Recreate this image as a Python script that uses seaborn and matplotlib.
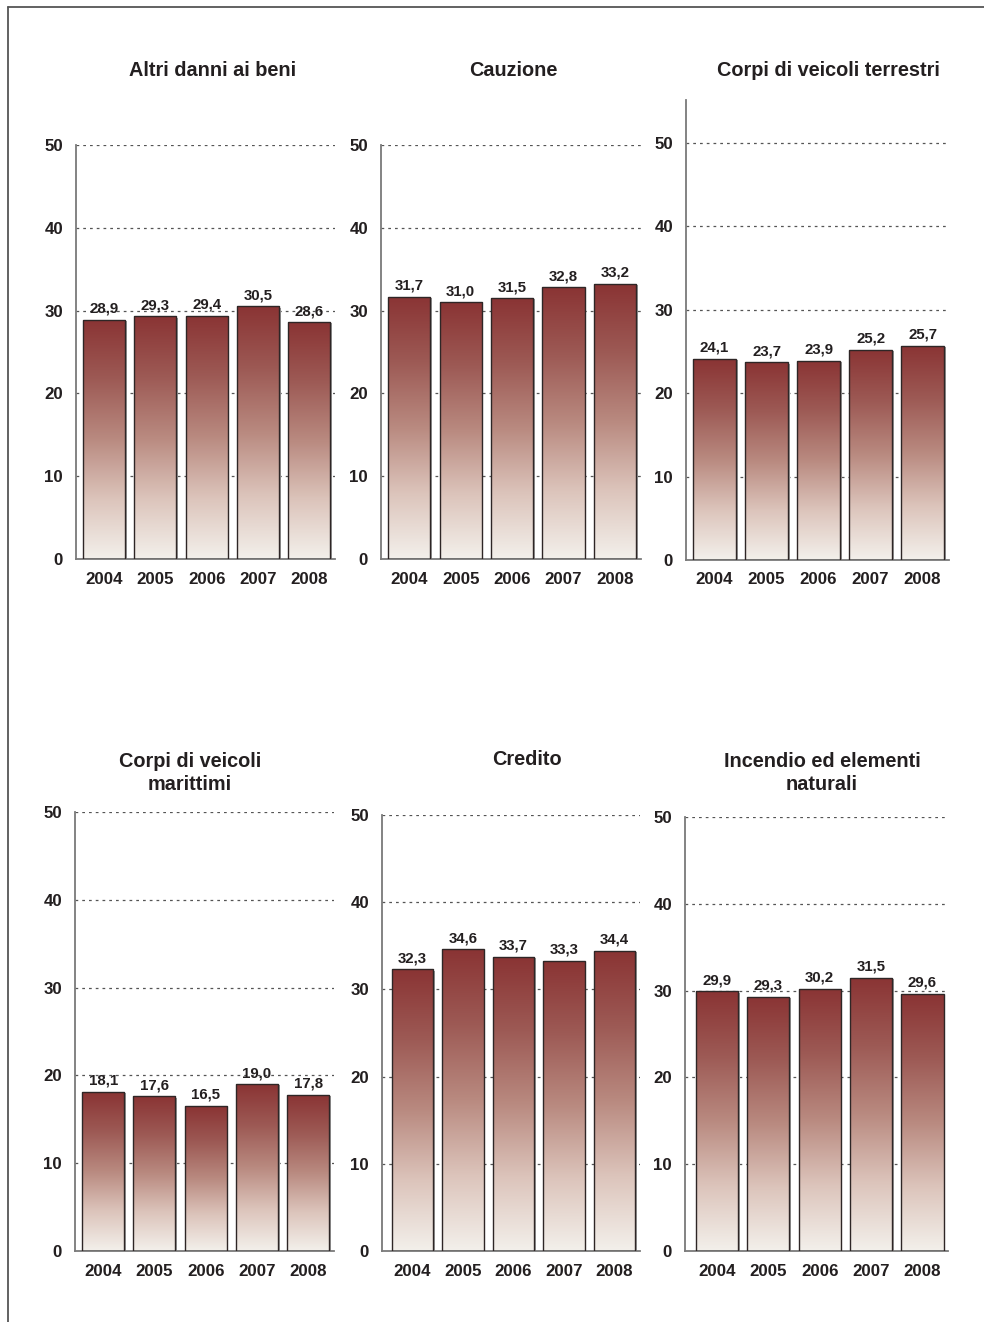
import numpy as np
import matplotlib
matplotlib.use("Agg")
import matplotlib.pyplot as plt
import matplotlib.transforms as mtransforms
from matplotlib.colors import LinearSegmentedColormap
from matplotlib.patches import Rectangle
from matplotlib.lines import Line2D
import seaborn as sns

sns.set_style("white")
plt.rcParams['font.family'] = ['Liberation Sans', 'DejaVu Sans']
plt.rcParams['font.weight'] = 'bold'

years = ["2004", "2005", "2006", "2007", "2008"]

titles = ["Altri danni ai beni", "Cauzione", "Corpi di veicoli terrestri",
          "Corpi di veicoli\nmarittimi", "Credito", "Incendio ed elementi\nnaturali"]

altri_danni = [28.9, 29.3, 29.4, 30.5, 28.6]
cauzione = [31.7, 31.0, 31.5, 32.8, 33.2]
veicoli_terrestri = [24.1, 23.7, 23.9, 25.2, 25.7]
veicoli_marittimi = [18.1, 17.6, 16.5, 19.0, 17.8]
credito = [32.3, 34.6, 33.7, 33.3, 34.4]
incendio = [29.9, 29.3, 30.2, 31.5, 29.6]

series = [altri_danni, cauzione, veicoli_terrestri, veicoli_marittimi, credito, incendio]

W, H = 984, 1322
txt = '#231f20'

# layout in pixels: spine x, bar spacing, y of 0, y of 50, top of axis, xlim left
layout = [
    (76, 51.25, 559, 145, 145, -0.55),
    (381, 51.4, 559, 145, 145, -0.55),
    (686, 52.0, 560, 143, 100, -0.55),
    (75, 51.25, 1251, 812, 812, -0.55),
    (382, 50.5, 1251, 815, 815, -0.6),
    (685, 51.4, 1251, 817, 817, -0.62),
]
# title centres (x px, y px)
title_pos = [(213, 70), (513, 71), (828, 70), (190, 773), (527, 760), (822, 773)]

cmap = LinearSegmentedColormap.from_list(
    "bar", ["#f3f0eb", "#dcc4bb", "#b98a80", "#9d5a55", "#8a3434"])
grad = np.linspace(0, 1, 256).reshape(-1, 1)

fig = plt.figure(figsize=(W / 100, H / 100), dpi=100)

for i, (vals, title) in enumerate(zip(series, titles)):
    sx, sp, y0, y50, ytop, xl = layout[i]
    px50 = (y0 - y50) / 50.0
    ymax = (y0 - ytop) / px50
    width = sp * (4.5 - xl)
    ax = fig.add_axes([sx / W, 1 - y0 / H, width / W, (y0 - ytop) / H])
    sns.barplot(x=years, y=vals, ax=ax, width=0.82, color='white',
                edgecolor='#2e2626', linewidth=1.0, zorder=3)
    shadow_tr = mtransforms.offset_copy(ax.transData, fig=fig, x=1.6, y=-1.2, units='dots')
    for p in list(ax.patches):
        x, w, h = p.get_x(), p.get_width(), p.get_height()
        p.set_facecolor('none')
        ax.add_patch(Rectangle((x, 0), w, h, transform=shadow_tr,
                               facecolor='#9a9a9a', edgecolor='none', zorder=1.5))
        im = ax.imshow(grad, cmap=cmap, origin='lower', aspect='auto',
                       extent=[x, x + w, 0, h], zorder=2, interpolation='bilinear')
        im.set_clip_path(p)
        lab = f"{h:.1f}".replace('.', ',')
        ax.annotate(lab, (x + w / 2, h), xytext=(0, 3), textcoords='offset points',
                    ha='center', va='bottom', fontsize=10.8, fontweight='bold',
                    color=txt, zorder=5)
    ax.set_xlim(xl, 4.5)
    ax.set_ylim(0, ymax)
    ax.set_yticks([0, 10, 20, 30, 40, 50])
    ax.set_axisbelow(True)
    for yv in [10, 20, 30, 40, 50]:
        ax.axhline(yv, color='#555555', lw=0.9, ls=(0, (2.2, 3.2)), zorder=0.5)
    sns.despine(ax=ax)
    for s in ['left', 'bottom']:
        ax.spines[s].set_color('#7a7a7a')
        ax.spines[s].set_linewidth(1.3)
    ax.tick_params(axis='y', length=2.5, direction='inout', width=0.8, color='#555555',
                   pad=8, labelsize=12.2, labelcolor=txt)
    ax.tick_params(axis='x', length=0, pad=9, labelsize=12.2, labelcolor=txt)
    for t in ax.get_xticklabels() + ax.get_yticklabels():
        t.set_fontweight('bold')
    ax.set_xlabel('')
    ax.set_ylabel('')
    tx, ty = title_pos[i]
    fig.text(tx / W, 1 - ty / H, title, ha='center', va='center', fontsize=14.3,
             fontweight='bold', color=txt, linespacing=1.3)

# outer frame (top and left)
fig.add_artist(Line2D([8 / W, 1], [1 - 7 / H, 1 - 7 / H], color='#555555', lw=1.3,
                      transform=fig.transFigure))
fig.add_artist(Line2D([8 / W, 8 / W], [0, 1 - 7 / H], color='#555555', lw=1.3,
                      transform=fig.transFigure))

fig.savefig("out.png", dpi=100)
